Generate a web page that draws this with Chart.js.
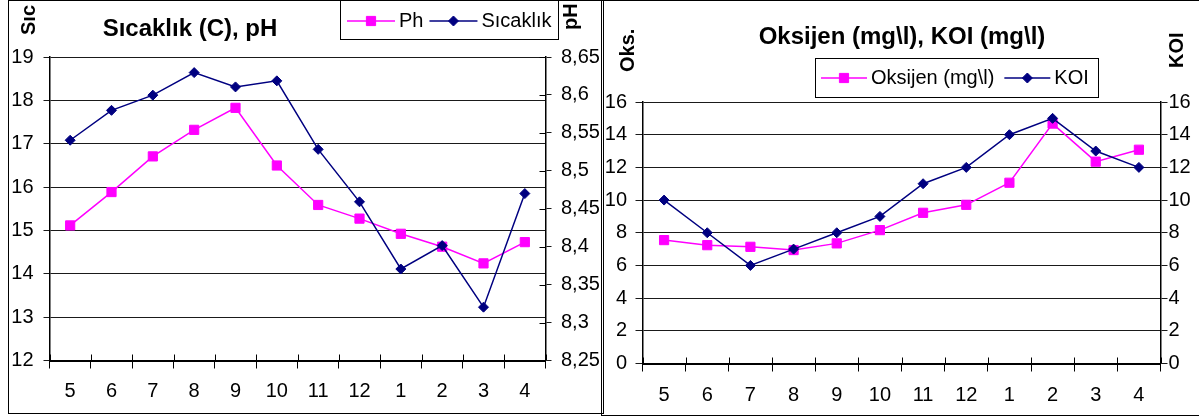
<!DOCTYPE html>
<html>
<head>
<meta charset="utf-8">
<script src="https://cdn.jsdelivr.net/npm/chart.js@4.4.1/dist/chart.umd.min.js"></script>
<style>
  html, body { margin: 0; padding: 0; background: #fff; width: 1199px; height: 418px; overflow: hidden; }
  .panel { position: absolute; box-sizing: border-box; border: 1px solid #000; background: transparent; }
  #p1 { left: 8px; top: 0; width: 596px; height: 414px; }
  #p2 { left: 601px; top: 0; width: 600px; height: 416px; }
  canvas { display: block; }
</style>
</head>
<body>
<div class="panel" id="p1"><canvas id="c1" width="594" height="412"></canvas></div>
<div class="panel" id="p2"><canvas id="c2" width="598" height="414"></canvas></div>
<script>
// Months of the sampling year (May .. April)
const months = ['5', '6', '7', '8', '9', '10', '11', '12', '1', '2', '3', '4'];

// Water temperature (°C), left axis of the first panel
const sicaklik = [17.08, 17.77, 18.12, 18.64, 18.31, 18.45, 16.87, 15.66, 14.11, 14.65, 13.23, 15.85];
// pH, right axis of the first panel
const ph = [8.428, 8.472, 8.519, 8.554, 8.583, 8.507, 8.455, 8.437, 8.417, 8.400, 8.378, 8.406];

// Dissolved oxygen (mg/l) and COD (mg/l), second panel
const oksijen = [7.55, 7.24, 7.14, 6.94, 7.35, 8.16, 9.22, 9.71, 11.06, 14.68, 12.35, 13.08];
const koi = [10, 8, 6, 7, 8, 9, 11, 12, 14, 15, 13, 12];

const MAGENTA = '#FF00FF';
const NAVY = '#000080';
const FONT = "'Liberation Sans', Arial, sans-serif";
const TICK_FONT = { family: FONT, size: 20 };

Chart.defaults.font.family = FONT;
Chart.defaults.color = '#000';

const commaNum = v => String(Math.round(v * 100) / 100).replace('.', ',');

// Titles, rotated axis captions and the boxed legend
function decorPlugin(cfg) {
  return {
    id: 'decor_' + cfg.key,
    afterDraw(chart) {
      const ctx = chart.ctx;
      ctx.save();
      ctx.fillStyle = '#000';
      ctx.font = `bold 24px ${FONT}`;
      ctx.textAlign = 'center';
      ctx.textBaseline = 'middle';
      ctx.fillText(cfg.title.text, cfg.title.x, cfg.title.y);

      ctx.font = `bold 20px ${FONT}`;
      ctx.textAlign = 'left';
      for (const a of cfg.axisTitles) {
        ctx.save();
        ctx.translate(a.x, a.y);
        ctx.rotate(-Math.PI / 2);
        ctx.fillText(a.text, 0, 0);
        ctx.restore();
      }

      const L = cfg.legend;
      ctx.lineWidth = 1;
      ctx.strokeStyle = '#000';
      ctx.strokeRect(L.box[0] + 0.5, L.box[1] + 0.5, L.box[2], L.box[3]);
      ctx.font = `20px ${FONT}`;
      ctx.textBaseline = 'middle';
      let x = L.x;
      chart.data.datasets.forEach(ds => {
        ctx.strokeStyle = ds.borderColor;
        ctx.lineWidth = 1.5;
        ctx.beginPath();
        ctx.moveTo(x, L.y);
        ctx.lineTo(x + L.line, L.y);
        ctx.stroke();
        ctx.fillStyle = ds.borderColor;
        ctx.lineWidth = 1;
        Chart.helpers.drawPoint(ctx, { pointStyle: ds.pointStyle, radius: ds.pointRadius, borderWidth: 1, rotation: 0 }, x + L.line / 2, L.y);
        ctx.fillStyle = '#000';
        const tx = x + L.line + L.gap;
        ctx.fillText(ds.label, tx, L.y);
        x = tx + ctx.measureText(ds.label).width + L.itemGap;
      });
      ctx.restore();
    }
  };
}

// Tick marks that cross the axis line into the plot area
function crossTicksPlugin(key, yAxes) {
  return {
    id: 'cross_' + key,
    afterDatasetsDraw(chart) {
      const { ctx, chartArea: a } = chart;
      ctx.save();
      ctx.strokeStyle = '#000';
      ctx.lineWidth = 1;
      const n = chart.data.labels.length;
      ctx.beginPath();
      for (let i = 0; i <= n; i++) {
        const x = Math.round(a.left + i * (a.right - a.left) / n) + 0.5;
        ctx.moveTo(x, a.bottom - 6);
        ctx.lineTo(x, a.bottom);
      }
      for (const id of yAxes) {
        const s = chart.scales[id];
        s.ticks.forEach(t => {
          const y = Math.round(s.getPixelForValue(t.value)) + 0.5;
          if (s.position === 'right') { ctx.moveTo(a.right - 6, y); ctx.lineTo(a.right, y); }
          else { ctx.moveTo(a.left, y); ctx.lineTo(a.left + 6, y); }
        });
      }
      ctx.stroke();
      ctx.restore();
    }
  };
}

function lineSet(label, data, color, style, radius, axis, order) {
  return {
    label, data, yAxisID: axis, order,
    borderColor: color, backgroundColor: color,
    borderWidth: 1.5, tension: 0,
    pointStyle: style, pointRadius: radius, pointHoverRadius: radius,
    pointBackgroundColor: color, pointBorderColor: color, pointBorderWidth: 1
  };
}

function xScale(height, pad) {
  return {
    type: 'category', offset: true,
    grid: { offset: true, drawOnChartArea: false, drawTicks: true, tickLength: 8, color: '#000', lineWidth: 1 },
    border: { display: true, color: '#000', width: 2 },
    ticks: { font: TICK_FONT, color: '#000', padding: pad, maxRotation: 0, autoSkip: false },
    afterFit: s => { s.height = height; }
  };
}

function yScale(pos, min, max, step, width, tl, pad, grid, fmt) {
  return {
    type: 'linear', position: pos, min, max,
    grid: { drawOnChartArea: grid, drawTicks: true, tickLength: tl, color: '#1a1a1a', lineWidth: 1 },
    border: { display: true, color: '#000', width: 1.5 },
    ticks: { stepSize: step, font: TICK_FONT, color: '#000', padding: pad, callback: fmt },
    afterFit: s => { s.width = width; }
  };
}

const common = {
  responsive: false,
  animation: false,
  events: [],
  plugins: { legend: { display: false }, title: { display: false }, tooltip: { enabled: false } }
};

new Chart(document.getElementById('c1'), {
  type: 'line',
  data: {
    labels: months,
    datasets: [
      lineSet('Ph', ph, MAGENTA, 'rect', 6.5, 'y1', 1),
      lineSet('Sıcaklık', sicaklik, NAVY, 'rectRot', 5, 'y', 0)
    ]
  },
  options: Object.assign({}, common, {
    layout: { padding: { top: 56, left: 0, right: 0, bottom: 0 } },
    scales: {
      x: xScale(52.5, 11),
      y: yScale('left', 12, 19, 1, 40.5, 6, 10, true, v => String(v)),
      y1: yScale('right', 8.25, 8.65, 0.05, 57.5, 6, 9.5, false, v => commaNum(v))
    }
  }),
  plugins: [
    crossTicksPlugin('a', ['y1']),
    decorPlugin({
      key: 'a',
      title: { text: 'Sıcaklık (C), pH', x: 181, y: 28 },
      axisTitles: [{ text: 'Sıc', x: 20, y: 34 }, { text: 'pH', x: 562.5, y: 29 }],
      legend: { box: [331, -2, 218, 40], x: 338, y: 20, line: 48, gap: 4, itemGap: 6 }
    })
  ]
});

new Chart(document.getElementById('c2'), {
  type: 'line',
  data: {
    labels: months,
    datasets: [
      lineSet('Oksijen (mg\\l)', oksijen, MAGENTA, 'rect', 6.5, 'y', 1),
      lineSet('KOI', koi, NAVY, 'rectRot', 5, 'y1', 0)
    ]
  },
  options: Object.assign({}, common, {
    layout: { padding: { top: 101, left: 0, right: 0, bottom: 0 } },
    scales: {
      x: xScale(51.5, 12),
      y: yScale('left', 0, 16, 2, 40.5, 7, 8.5, true, v => String(v)),
      y1: yScale('right', 0, 16, 2, 39.5, 7, 1, false, v => String(v))
    }
  }),
  plugins: [
    crossTicksPlugin('b', []),
    decorPlugin({
      key: 'b',
      title: { text: 'Oksijen (mg\\l), KOI (mg\\l)', x: 300, y: 36 },
      axisTitles: [{ text: 'Oks.', x: 26, y: 71 }, { text: 'KOI', x: 575, y: 67 }],
      legend: { box: [213, 57, 283, 39], x: 219, y: 77, line: 46, gap: 4, itemGap: 10 }
    })
  ]
});
</script>
</body>
</html>
